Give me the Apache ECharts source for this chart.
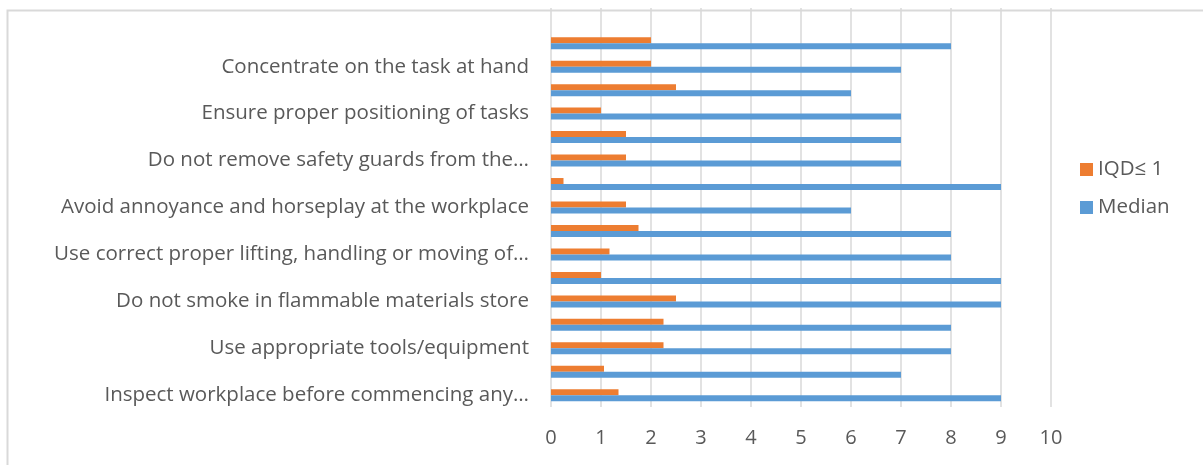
<!DOCTYPE html>
<html>
<head>
<meta charset="utf-8">
<style>
  html, body { margin: 0; padding: 0; background: #ffffff; }
  #chart { width: 1203px; height: 465px; }
</style>
<script src="https://cdn.jsdelivr.net/npm/echarts@6/dist/echarts.min.js"></script>
</head>
<body>
<div id="chart"></div>
<script>
// Safety practices, listed bottom to top; the top slot is left empty.
const practices = [
  'Inspect workplace before commencing any…',
  'Report all accidents and near misses',
  'Use appropriate tools/equipment',
  'Wear appropriate personal protective equipment',
  'Do not smoke in flammable materials store',
  'Keep the work area clean and tidy',
  'Use correct proper lifting, handling or moving of…',
  'Observe all safety signs and warnings',
  'Avoid annoyance and horseplay at the workplace',
  'Do not operate machines without authorisation',
  'Do not remove safety guards from the…',
  'Follow safe work procedures',
  'Ensure proper positioning of tasks',
  'Do not work under the influence of alcohol',
  'Concentrate on the task at hand',
  'Keep emergency exits clear',
  ''
];

// Median rating per practice (same order as above)
const median = [9, 7, 8, 8, 9, 9, 8, 8, 6, 9, 7, 7, 7, 6, 7, 8, null];

// Interquartile deviation per practice (same order as above)
const iqd = [1.35, 1.06, 2.25, 2.25, 2.5, 1, 1.17, 1.75, 1.5, 0.25, 1.5, 1.5, 1, 2.5, 2, 2, null];

const iqdName = 'IQD\u2264 1';
const medianName = 'Median';
const legendOrder = [iqdName, medianName];

const textColor = '#595959';
const gridColor = '#d9d9d9';
const fontFamily = '"Open Sans", "DejaVu Sans", sans-serif';

const chart = echarts.init(document.getElementById('chart'), null, { renderer: 'canvas' });

chart.setOption({
  animation: false,
  backgroundColor: '#ffffff',
  textStyle: { fontFamily: fontFamily, color: textColor },
  graphic: [{
    type: 'rect',
    left: 5, top: 8,
    shape: { x: 0, y: 0, width: 1400, height: 700 },
    style: { fill: 'none', stroke: gridColor, lineWidth: 2 },
    silent: true,
    z: -10
  }],
  grid: {
    left: 551,
    right: 152,
    top: 8,
    bottom: 58,
    containLabel: false
  },
  legend: {
    orient: 'vertical',
    left: 1075,
    top: 154,
    itemWidth: 13,
    itemHeight: 13,
    itemGap: 17,
    icon: 'rect',
    data: legendOrder,
    textStyle: { fontSize: 20.5, color: textColor, fontFamily: fontFamily }
  },
  xAxis: {
    type: 'value',
    min: 0,
    max: 10,
    interval: 1,
    axisLine: { show: false },
    axisTick: { show: false },
    splitLine: { show: true, lineStyle: { color: gridColor, width: 1.5 } },
    axisLabel: { fontSize: 20, color: textColor, margin: 21, fontFamily: fontFamily }
  },
  yAxis: {
    type: 'category',
    data: practices,
    axisLine: { show: false },
    axisTick: { show: false },
    splitLine: { show: false },
    axisLabel: {
      interval: 1,
      fontSize: 20.5,
      color: textColor,
      margin: 22,
      fontFamily: fontFamily
    }
  },
  series: [
    {
      name: iqdName,
      type: 'bar',
      data: iqd,
      barWidth: 6,
      barGap: '0%',
      itemStyle: { color: '#ed7d31' }
    },
    {
      name: medianName,
      type: 'bar',
      data: median,
      barWidth: 6,
      barGap: '0%',
      itemStyle: { color: '#5b9bd5' }
    }
  ]
});
</script>
</body>
</html>
